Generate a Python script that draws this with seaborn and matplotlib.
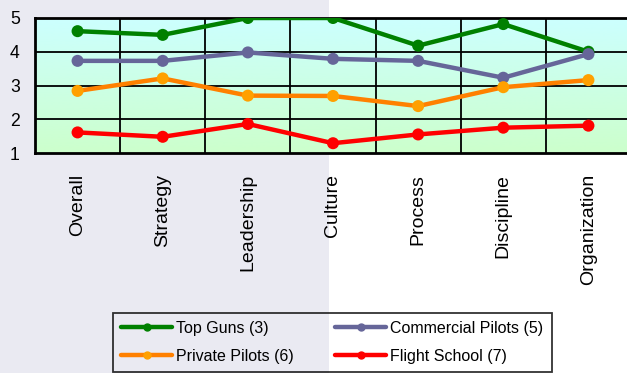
import numpy as np
import pandas as pd
import matplotlib
matplotlib.use("Agg")
import matplotlib.pyplot as plt
from matplotlib.lines import Line2D
from matplotlib.patches import Rectangle
import seaborn as sns

categories = ["Overall", "Strategy", "Leadership", "Culture", "Process", "Discipline", "Organization"]
series_names = ["Top Guns (3)", "Commercial Pilots (5)", "Private Pilots (6)", "Flight School (7)"]
top_guns = [4.61, 4.50, 5.00, 5.00, 4.18, 4.82, 4.00]
commercial = [3.73, 3.73, 3.98, 3.79, 3.73, 3.23, 3.93]
private = [2.84, 3.21, 2.70, 2.69, 2.39, 2.95, 3.16]
flight = [1.61, 1.48, 1.86, 1.29, 1.55, 1.75, 1.81]
y_ticks = [1, 2, 3, 4, 5]

line_colors = ["#008000", "#666699", "#FF8000", "#FF0000"]
marker_colors = ["#008000", "#666699", "#FFA000", "#FF0000"]

sns.set_theme(style="white")
plt.rcParams["font.family"] = ["Liberation Sans", "DejaVu Sans"]
plt.rcParams["text.color"] = "black"
plt.rcParams["xtick.color"] = "black"
plt.rcParams["ytick.color"] = "black"

rows = []
for name, vals in zip(series_names, [top_guns, commercial, private, flight]):
    for i, (c, v) in enumerate(zip(categories, vals)):
        rows.append({"series": name, "category": c, "pos": i, "score": v})
df = pd.DataFrame(rows)

fig = plt.figure(figsize=(6.27, 3.73), dpi=100)
fig.patch.set_facecolor("white")
fig.patches.append(Rectangle((0, 0), 329 / 627, 1, transform=fig.transFigure,
                             facecolor="#EAEAF2", edgecolor="none", zorder=-10))

ax = fig.add_axes([35 / 627, 1 - 153 / 373, 596 / 627, 135 / 373])
ax.set_facecolor("none")

# gradient background
grad = np.linspace(0, 1, 256).reshape(-1, 1)
top_c = np.array([204, 255, 255]) / 255
bot_c = np.array([204, 255, 204]) / 255
img = top_c[None, None, :] * (1 - grad[:, :, None]) + bot_c[None, None, :] * grad[:, :, None]
ax.imshow(img, extent=(-0.5, 6.5, 1, 5), aspect="auto", origin="upper", zorder=0)

sns.lineplot(data=df, x="pos", y="score", hue="series", hue_order=series_names,
             palette=line_colors, linewidth=3.2, legend=False, ax=ax, zorder=3,
             estimator=None, sort=False)
sns.scatterplot(data=df, x="pos", y="score", hue="series", hue_order=series_names,
                palette=marker_colors, s=75, edgecolor="none", legend=False, ax=ax, zorder=4)

ax.set_xlim(-0.5, 6.5)
ax.set_ylim(1, 5)
ax.set_xticks(range(len(categories)))
ax.set_xticklabels(categories, rotation=90, fontsize=14, color="black")
ax.set_yticks(y_ticks)
ax.set_yticklabels([str(t) for t in y_ticks], fontsize=12.7, color="black")
ax.tick_params(axis="x", which="both", length=0, pad=15)
ax.tick_params(axis="y", length=0, pad=11)
ax.set_xlabel("")
ax.set_ylabel("")
ax.grid(False)
for yv in [2, 3, 4]:
    ax.axhline(yv, color="black", lw=1.3, zorder=1)
for xv in np.arange(0.5, 6.5, 1.0):
    ax.axvline(xv, color="black", lw=1.3, zorder=1)
for sp in ax.spines.values():
    sp.set_visible(True)
    sp.set_color("black")
    sp.set_linewidth(2)

handles = [Line2D([0], [0], color=lc, lw=3.2, marker="o", markersize=5,
                  markerfacecolor=mc, markeredgecolor=mc)
           for lc, mc in zip(line_colors, marker_colors)]
order = [0, 2, 1, 3]
leg = fig.legend([handles[i] for i in order], [series_names[i] for i in order],
                 loc="upper left", bbox_to_anchor=(113 / 627, 1 - 313 / 373), ncol=2,
                 fontsize=11.5, frameon=True, fancybox=False, handlelength=3.2,
                 handletextpad=0.25, columnspacing=2.6, borderpad=0.5,
                 labelspacing=0.8, borderaxespad=0)
leg.get_frame().set_edgecolor("black")
leg.get_frame().set_linewidth(1.3)
leg.get_frame().set_facecolor("none")

fig.savefig("out.png", dpi=100)
